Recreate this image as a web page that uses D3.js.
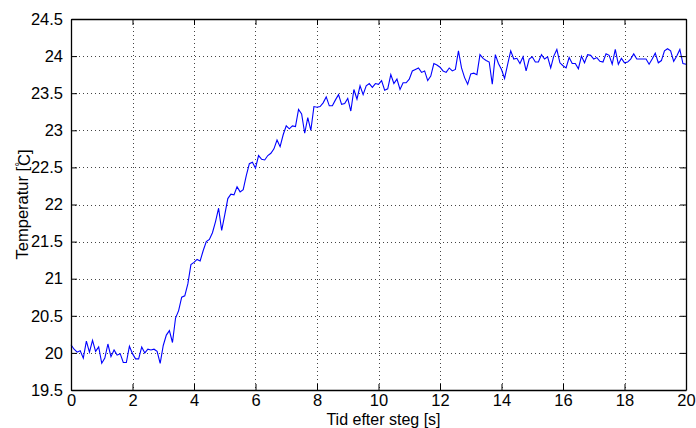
<!DOCTYPE html>
<html><head><meta charset="utf-8">
<script src="https://cdn.jsdelivr.net/npm/d3@7"></script>
<style>body{margin:0;background:#fff}svg{display:block}text{font-family:"Liberation Sans",Arial,sans-serif;fill:#000}</style>
</head><body><svg id="c" width="696" height="428"></svg>
<script>
const xTicks = [0,2,4,6,8,10,12,14,16,18,20];
const yTicks = [19.5,20,20.5,21,21.5,22,22.5,23,23.5,24,24.5];
const tStart = 0, tStep = 0.1;
const temps = [
20.11,20.05,20.01,20.03,19.93,20.16,20.01,20.17,20.02,20.08,
19.86,19.93,20.12,19.95,20.04,19.97,19.99,19.87,19.87,20.09,
19.99,19.92,19.92,20.08,20.00,20.05,20.04,20.05,20.02,19.86,
20.10,20.24,20.30,20.14,20.47,20.57,20.75,20.77,20.93,21.19,
21.22,21.26,21.24,21.38,21.50,21.53,21.62,21.77,21.95,21.65,
21.86,22.08,22.14,22.13,22.24,22.17,22.20,22.39,22.55,22.57,
22.49,22.66,22.61,22.60,22.66,22.69,22.75,22.87,22.78,22.94,
23.06,23.02,23.06,23.05,23.28,23.22,22.96,23.17,23.00,23.32,
23.31,23.32,23.37,23.45,23.33,23.33,23.41,23.48,23.35,23.36,
23.43,23.26,23.55,23.42,23.60,23.48,23.60,23.63,23.58,23.63,
23.62,23.67,23.54,23.56,23.75,23.63,23.69,23.55,23.64,23.64,
23.69,23.80,23.82,23.84,23.78,23.80,23.67,23.73,23.90,23.88,
23.85,23.80,23.78,23.84,23.80,23.82,24.07,23.84,23.71,23.62,
23.76,23.77,23.75,24.02,23.97,23.94,23.92,23.62,24.02,23.90,
23.82,23.70,23.89,24.07,23.96,23.97,23.90,23.99,23.80,23.96,
23.99,23.92,23.92,24.02,23.96,23.99,23.84,24.00,24.09,23.91,
23.87,23.84,23.98,23.90,23.90,23.83,24.00,23.91,24.02,24.01,
23.96,23.98,23.93,23.92,24.03,24.01,23.89,24.09,23.89,23.97,
23.91,23.92,23.96,24.03,23.96,23.96,23.96,23.96,23.89,23.96,
24.04,23.91,23.94,24.07,24.10,24.07,23.93,24.00,24.09,23.90,
23.89];
const xLabel = "Tid efter steg [s]";
const yLabelMain = "Temperatur [";
const yLabelDeg = "°";
const yLabelEnd = "C]";

const svg = d3.select("#c");
const L = 71, R = 686, T = 19, B = 390;
const FS = "16.5px";
const x = d3.scaleLinear().domain([0,20]).range([L,R]);
const y = d3.scaleLinear().domain([19.5,24.5]).range([B,T]);

// grid
const g = svg.append("g");
g.selectAll(".gx").data(xTicks.slice(1,-1)).join("line")
  .attr("x1",d=>Math.round(x(d))+0.5).attr("x2",d=>Math.round(x(d))+0.5).attr("y1",T).attr("y2",B)
  .attr("stroke","#444").attr("stroke-width",1).attr("stroke-dasharray","1,3");
g.selectAll(".gy").data(yTicks.slice(1,-1)).join("line")
  .attr("y1",d=>Math.round(y(d))+0.5).attr("y2",d=>Math.round(y(d))+0.5).attr("x1",L).attr("x2",R)
  .attr("stroke","#444").attr("stroke-width",1).attr("stroke-dasharray","1,3");

// data line
const data = temps.map((v,i)=>({t:tStart+i*tStep, v}));
svg.append("path").datum(data)
  .attr("fill","none").attr("stroke","#0000ff").attr("stroke-width",1.1)
  .attr("d", d3.line().x(d=>x(d.t)).y(d=>y(d.v)));

// axes
const ax = d3.axisBottom(x).tickValues(xTicks).tickSizeInner(-6).tickSizeOuter(0).tickPadding(8).tickFormat(d3.format("d"));
const axg = svg.append("g").attr("transform",`translate(0,${B})`).call(ax);
const ay = d3.axisLeft(y).tickValues(yTicks).tickSizeInner(-6).tickSizeOuter(0).tickPadding(8).tickFormat(d=>String(d));
const ayg = svg.append("g").attr("transform",`translate(${L},0)`).call(ay);
const axt = svg.append("g").attr("transform",`translate(0,${T})`).call(d3.axisTop(x).tickValues(xTicks).tickSizeInner(-6).tickSizeOuter(0).tickFormat(""));
const ayr = svg.append("g").attr("transform",`translate(${R},0)`).call(d3.axisRight(y).tickValues(yTicks).tickSizeInner(-6).tickSizeOuter(0).tickFormat(""));
[axg,ayg,axt,ayr].forEach(a=>{
  a.select(".domain").attr("stroke","#000").attr("stroke-width",1.3);
  a.selectAll(".tick line").attr("stroke","#000").attr("stroke-width",1);
  a.selectAll("text").style("font-size",FS).style("font-family","'Liberation Sans',Arial,sans-serif").attr("fill","#000");
});
axg.selectAll("text").attr("dy","0.5em");

svg.append("text").attr("x",(L+R)/2+5).attr("y",424.5).attr("text-anchor","middle")
  .style("font-size","16px").text(xLabel);
const yl = svg.append("text").attr("transform",`translate(28,${(T+B)/2}) rotate(-90)`).attr("text-anchor","middle")
  .style("font-size",FS);
yl.append("tspan").text(yLabelMain);
yl.append("tspan").attr("dy","-0.35em").style("font-size","12px").text(yLabelDeg);
yl.append("tspan").attr("dy","0.35em").attr("dx","-4").text(yLabelEnd);
</script></body></html>
